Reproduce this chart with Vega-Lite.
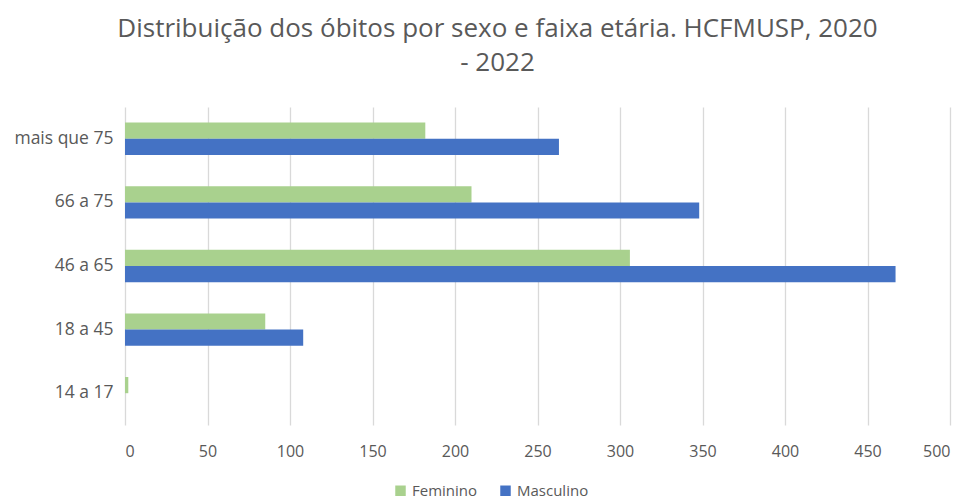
{
  "$schema": "https://vega.github.io/schema/vega-lite/v6.json",
  "width": 825,
  "height": 318,
  "autosize": {"type": "none"},
  "padding": {"left": 125, "top": 107, "right": 22, "bottom": 77},
  "background": "white",
  "title": {
    "text": ["Distribuição dos óbitos por sexo e faixa etária. HCFMUSP, 2020", "- 2022"],
    "font": "Open Sans",
    "fontSize": 26,
    "fontWeight": "normal",
    "color": "#595959",
    "anchor": "middle",
    "dx": -40,
    "offset": 31,
    "lineHeight": 34
  },
  "data": {
    "values": [
      {"faixa": "mais que 75", "sexo": "Feminino", "obitos": 182},
      {"faixa": "mais que 75", "sexo": "Masculino", "obitos": 263},
      {"faixa": "66 a 75", "sexo": "Feminino", "obitos": 210},
      {"faixa": "66 a 75", "sexo": "Masculino", "obitos": 348},
      {"faixa": "46 a 65", "sexo": "Feminino", "obitos": 306},
      {"faixa": "46 a 65", "sexo": "Masculino", "obitos": 467},
      {"faixa": "18 a 45", "sexo": "Feminino", "obitos": 85},
      {"faixa": "18 a 45", "sexo": "Masculino", "obitos": 108},
      {"faixa": "14 a 17", "sexo": "Feminino", "obitos": 2},
      {"faixa": "14 a 17", "sexo": "Masculino", "obitos": 0}
    ]
  },
  "mark": {"type": "bar"},
  "encoding": {
    "y": {
      "field": "faixa",
      "type": "nominal",
      "sort": ["mais que 75", "66 a 75", "46 a 65", "18 a 45", "14 a 17"],
      "scale": {"paddingInner": 0.49, "paddingOuter": 0.245},
      "axis": {
        "title": null,
        "domain": false,
        "ticks": false,
        "grid": false,
        "labelFont": "Open Sans",
        "labelFontSize": 17.5,
        "labelColor": "#595959",
        "labelPadding": 12
      }
    },
    "yOffset": {
      "field": "sexo",
      "type": "nominal",
      "sort": ["Feminino", "Masculino"],
      "scale": {"paddingInner": 0, "paddingOuter": 0}
    },
    "x": {
      "field": "obitos",
      "type": "quantitative",
      "scale": {"domain": [0, 500], "nice": false},
      "axis": {
        "title": null,
        "values": [0, 50, 100, 150, 200, 250, 300, 350, 400, 450, 500],
        "domain": false,
        "ticks": false,
        "grid": true,
        "gridColor": "#d9d9d9",
        "gridWidth": 1.3,
        "labelFont": "Open Sans",
        "labelFontSize": 16,
        "labelColor": "#595959",
        "labelPadding": 18
      }
    },
    "color": {
      "field": "sexo",
      "type": "nominal",
      "sort": ["Feminino", "Masculino"],
      "scale": {"domain": ["Feminino", "Masculino"], "range": ["#A9D18E", "#4472C4"]},
      "legend": {
        "title": null,
        "orient": "none",
        "direction": "horizontal",
        "legendX": 268,
        "legendY": 376,
        "symbolType": "square",
        "symbolSize": 110,
        "symbolStrokeWidth": 0,
        "labelFont": "Open Sans",
        "labelFontSize": 15,
        "labelColor": "#595959",
        "labelOffset": 4,
        "columnPadding": 20
      }
    }
  },
  "config": {"view": {"stroke": null}}
}
